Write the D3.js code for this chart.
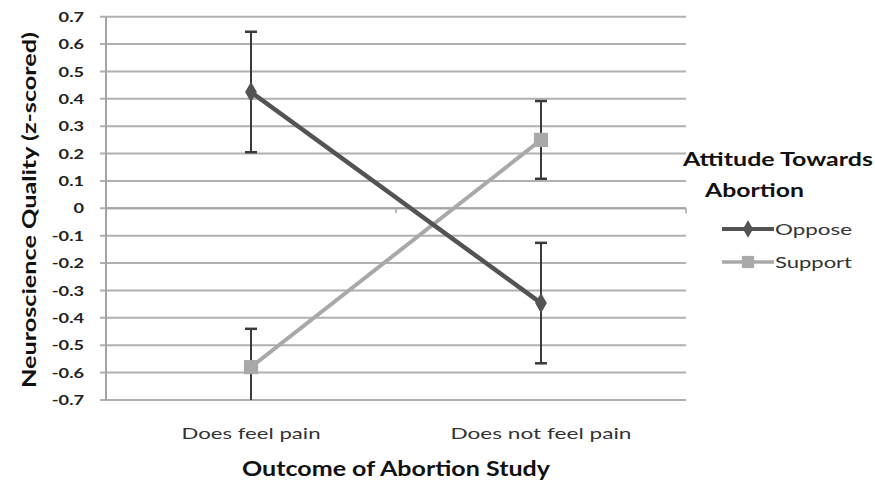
<!DOCTYPE html>
<html><head><meta charset="utf-8">
<script src="https://cdn.jsdelivr.net/npm/d3@7"></script>
<style>body{margin:0;background:#fff}svg{display:block}</style>
</head><body>
<svg id="c" width="875" height="484"></svg>
<script>
const categories = ["Does feel pain", "Does not feel pain"];
const seriesNames = ["Oppose", "Support"];
const opposeValues = [0.425, -0.346];
const opposeErrors = [0.22, 0.22];
const supportValues = [-0.58, 0.25];
const supportErrors = [0.14, 0.142];
const yTicks = [0.7,0.6,0.5,0.4,0.3,0.2,0.1,0,-0.1,-0.2,-0.3,-0.4,-0.5,-0.6,-0.7];

const font = "Lato, 'Open Sans', sans-serif";
const svg = d3.select("#c");
const x0 = 106, x1 = 686;
const y = d3.scaleLinear().domain([-0.7, 0.7]).range([400, 16.7]);
const x = d3.scalePoint().domain(categories).range([x0, x1]).padding(0.5);

// gridlines
const g = svg.append("g");
g.selectAll("line.grid").data(yTicks).join("line")
  .attr("x1", 100).attr("x2", x1)
  .attr("y1", d => y(d)).attr("y2", d => y(d))
  .attr("stroke", "#b0b0b0").attr("stroke-width", 2);

// y axis line
g.append("line").attr("x1", x0).attr("x2", x0).attr("y1", y(0.7)).attr("y2", y(-0.7))
  .attr("stroke", "#a4a4a4").attr("stroke-width", 2);

// x axis at zero with category boundary ticks
const xAxisG = svg.append("g").attr("transform", `translate(0,${y(0)})`);
xAxisG.append("line").attr("x1", x0).attr("x2", x1).attr("stroke", "#a4a4a4").attr("stroke-width", 2);
const bounds = [(x0 + x1) / 2, x1];
xAxisG.selectAll("line.t").data(bounds).join("line")
  .attr("x1", d => d).attr("x2", d => d).attr("y1", 0).attr("y2", 5)
  .attr("stroke", "#a4a4a4").attr("stroke-width", 1.5);

// y tick labels (horizontally stretched like the reference)
svg.append("g").selectAll("text").data(yTicks).join("text")
  .attr("transform", d => `translate(84,${y(d)}) scale(1.3,1)`).attr("dy", "0.36em")
  .attr("text-anchor", "end").attr("font-family", font).attr("font-weight", "bold")
  .attr("font-size", 14).attr("fill", "#222")
  .text(d => d === 0 ? "0" : d.toFixed(1));

// y title
svg.append("text").attr("transform", `translate(36,210) rotate(-90)`)
  .attr("text-anchor", "middle").attr("font-family", font).attr("font-weight", "bold")
  .attr("font-size", 19).attr("fill", "#111")
  .attr("textLength", 356).attr("lengthAdjust", "spacingAndGlyphs")
  .text("Neuroscience Quality (z-scored)");

// category labels
const catWidths = [139, 181];
svg.append("g").selectAll("text").data(categories).join("text")
  .attr("x", d => x(d)).attr("y", 439).attr("text-anchor", "middle")
  .attr("font-family", font).attr("font-size", 16).attr("fill", "#333")
  .attr("textLength", (d, i) => catWidths[i]).attr("lengthAdjust", "spacingAndGlyphs")
  .text(d => d);

// x title
svg.append("text").attr("x", (x0 + x1) / 2).attr("y", 476).attr("text-anchor", "middle")
  .attr("font-family", font).attr("font-weight", "bold").attr("font-size", 20)
  .attr("textLength", 308).attr("lengthAdjust", "spacingAndGlyphs")
  .attr("fill", "#111").text("Outcome of Abortion Study");

const series = [
  {name: seriesNames[0], vals: opposeValues, errs: opposeErrors, color: "#535353", w: 4.5, shape: d3.symbolDiamond, size: 120},
  {name: seriesNames[1], vals: supportValues, errs: supportErrors, color: "#a9a9a9", w: 4, shape: d3.symbolSquare, size: 200}
];

const clamp = v => Math.max(-0.7, Math.min(0.7, v));
const line = d3.line().x(d => x(d.c)).y(d => y(d.v));

[series[1], series[0]].forEach(s => {
  const pts = categories.map((c, i) => ({c, v: s.vals[i]}));
  svg.append("path").datum(pts).attr("d", line).attr("fill", "none")
    .attr("stroke", s.color).attr("stroke-width", s.w);
});

series.forEach(s => {
  const pts = categories.map((c, i) => ({c, v: s.vals[i], e: s.errs[i]}));
  const eg = svg.append("g");
  pts.forEach(p => {
    const hi = p.v + p.e, lo = p.v - p.e;
    eg.append("line").attr("x1", x(p.c)).attr("x2", x(p.c))
      .attr("y1", y(clamp(hi))).attr("y2", y(clamp(lo)))
      .attr("stroke", "#3a3a3a").attr("stroke-width", 2);
    [hi, lo].forEach(v => {
      if (v <= 0.7 && v >= -0.7) {
        eg.append("line").attr("x1", x(p.c) - 6).attr("x2", x(p.c) + 6)
          .attr("y1", y(v)).attr("y2", y(v)).attr("stroke", "#3a3a3a").attr("stroke-width", 2.5);
      }
    });
  });
});

series.forEach(s => {
  const pts = categories.map((c, i) => ({c, v: s.vals[i]}));
  svg.append("g").selectAll("path").data(pts).join("path")
    .attr("d", d3.symbol().type(s.shape).size(s.size))
    .attr("transform", d => `translate(${x(d.c)},${y(d.v)})`)
    .attr("fill", s.color);
});

// legend
const lg = svg.append("g");
lg.append("text").attr("x", 683).attr("y", 166).attr("font-family", font).attr("font-weight", "bold")
  .attr("font-size", 18).attr("fill", "#111")
  .attr("textLength", 190).attr("lengthAdjust", "spacingAndGlyphs").text("Attitude Towards");
lg.append("text").attr("x", 705).attr("y", 197).attr("font-family", font).attr("font-weight", "bold")
  .attr("font-size", 18).attr("fill", "#111")
  .attr("textLength", 99).attr("lengthAdjust", "spacingAndGlyphs").text("Abortion");
series.forEach((s, i) => {
  const ly = 229 + i * 33;
  lg.append("line").attr("x1", 722).attr("x2", 774).attr("y1", ly).attr("y2", ly)
    .attr("stroke", s.color).attr("stroke-width", s.w - 0.5);
  lg.append("path").attr("d", d3.symbol().type(s.shape).size(s.size * 0.75))
    .attr("transform", `translate(748,${ly})`).attr("fill", s.color);
  lg.append("text").attr("x", 775).attr("y", ly).attr("dy", "0.35em")
    .attr("font-family", font).attr("font-size", 16).attr("fill", "#333")
    .attr("textLength", 77).attr("lengthAdjust", "spacingAndGlyphs").text(s.name);
});
</script>
</body></html>
